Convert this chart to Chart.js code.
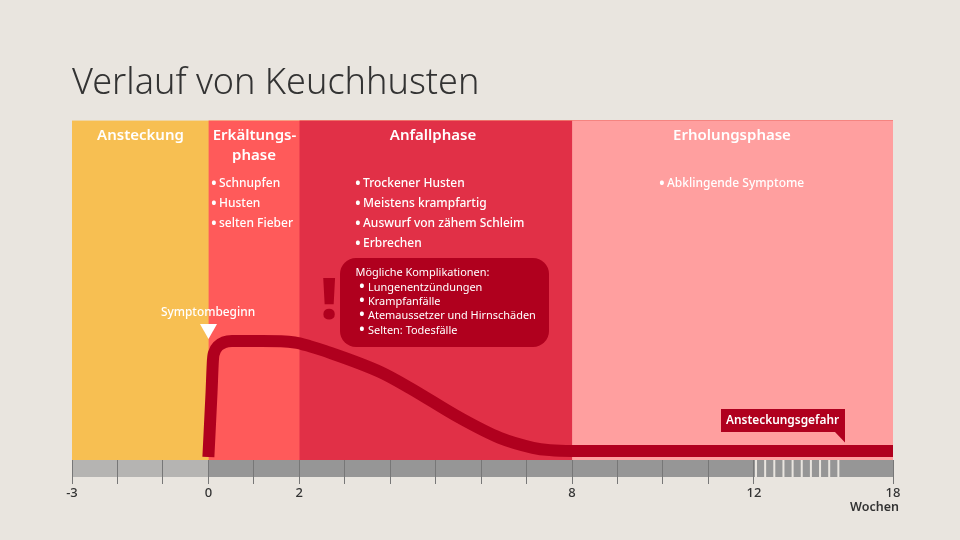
<!DOCTYPE html>
<html><head><meta charset="utf-8">
<style>html,body{margin:0;padding:0;background:#e9e5df}#w{width:960px;height:540px;position:relative}canvas{display:block}</style>
<script src="https://cdn.jsdelivr.net/npm/chart.js@4"></script>
</head><body><div id="w"><canvas id="c" width="960" height="540"></canvas></div>
<script>
const titleText = "Verlauf von Keuchhusten";
const phaseNames = ["Ansteckung", "Erkältungsphase", "Anfallphase", "Erholungsphase"];
const phaseStart = [-3, 0, 2, 8];
const phaseColors = ["#f7bf52", "#ff5a5a", "#e13047", "#ff9f9f"];
const curveWeeks = [0, 0.07, 0.10, 0.134, 0.21, 0.34, 0.52, 1.18, 1.9, 2.23, 2.56, 3.78, 4.43, 5.53, 6.41, 7.14, 7.51, 8, 18];
const curveLevel = [0.9, 20, 29.4, 31.8, 33.5, 34.6, 35, 35, 34.6, 33.5, 32.1, 25.9, 21.2, 12.4, 6.5, 3.6, 2.9, 2.65, 2.65];
const tickWeeks = [-3,-2,-1,0,1,2,3,4,5,6,7,8,9,10,11,12,18];
const labelledWeeks = [-3,0,2,8,12,18];

const SANS = '"Noto Sans"';
const BG = "#e9e5df", DARK = "#b0001e", INK = "#333333";

class BrokenScale extends Chart.LinearScale {
  static id = "broken";
  static defaults = Chart.LinearScale.defaults;
  getPixelForValue(v) {
    const pos = v <= 12 ? v : 12 + (v - 12) * 0.51;
    return this.left + (pos + 3) / 18.06 * this.width;
  }
}
Chart.register(BrokenScale);

const bandSets = phaseNames.map((n, i) => ({
  type: "line", label: n, order: 9 - i,
  data: [{x: phaseStart[i], y: 100}, {x: 18, y: 100}],
  fill: "start", backgroundColor: phaseColors[i], borderWidth: 0, pointRadius: 0, tension: 0
}));

function t(ctx, s, x, y, font, color, align) {
  ctx.font = font; ctx.fillStyle = color; ctx.textAlign = align || "left"; ctx.textBaseline = "middle";
  ctx.fillText(s, x, y);
}
function bulletList(ctx, items, bx, tx, ys, font) {
  items.forEach((s, i) => { t(ctx, "•", bx, ys[i], `700 14px ${SANS}`, "#fff", "center"); t(ctx, s, tx, ys[i], font, "#fff"); });
}
const overlay = {
  id: "overlay",
  beforeDraw(chart) {
    const ctx = chart.ctx, x = chart.scales.x, a = chart.chartArea;
    const top = a.bottom, h = 17;
    ctx.save();
    ctx.fillStyle = "#969696";
    ctx.fillRect(x.getPixelForValue(0), top, x.getPixelForValue(18) - x.getPixelForValue(0), h);
    ctx.fillStyle = "#b5b4b2";
    ctx.fillRect(x.getPixelForValue(-3), top, x.getPixelForValue(0) - x.getPixelForValue(-3), h);
    ctx.fillStyle = BG;
    for (let i = 0; i < 10; i++) ctx.fillRect(755 + i * 9.15, top, 2, h);
    ctx.restore();
  },
  afterDraw(chart) {
    const ctx = chart.ctx;
    ctx.save();
    const hd = `600 15px ${SANS}`, b = `500 12px ${SANS}`, s = `400 10.95px ${SANS}`;
    t(ctx, "Ansteckung", 140.5, 136, hd, "#fff", "center");
    t(ctx, "Erkältungs-", 254.5, 136, hd, "#fff", "center");
    t(ctx, "phase", 254, 156, hd, "#fff", "center");
    t(ctx, "Anfallphase", 433, 136, hd, "#fff", "center");
    t(ctx, "Erholungsphase", 732, 136, hd, "#fff", "center");
    bulletList(ctx, ["Schnupfen","Husten","selten Fieber"], 214, 219, [184,204,224], b);
    bulletList(ctx, ["Trockener Husten","Meistens krampfartig","Auswurf von zähem Schleim","Erbrechen"], 358, 363, [184,204,224,244], b);
    bulletList(ctx, ["Abklingende Symptome"], 662, 667, [184], b);
    ctx.fillStyle = DARK;
    ctx.beginPath(); ctx.roundRect(340, 258, 209, 89, 16); ctx.fill();
    t(ctx, "!", 329, 303, `900 56px ${SANS}`, DARK, "center");
    t(ctx, "Mögliche Komplikationen:", 355.5, 272.5, s, "#fff");
    bulletList(ctx, ["Lungenentzündungen","Krampfanfälle","Atemaussetzer und Hirnschäden","Selten: Todesfälle"], 362, 368, [287.5,301.5,315.5,330.5], s);
    t(ctx, "Symptombeginn", 208, 313, `500 11.9px ${SANS}`, "#fff", "center");
    ctx.fillStyle = "#fff";
    ctx.beginPath(); ctx.moveTo(200, 324); ctx.lineTo(217, 324); ctx.lineTo(208.5, 339); ctx.closePath(); ctx.fill();
    ctx.fillStyle = DARK;
    ctx.beginPath(); ctx.moveTo(721,409); ctx.lineTo(845,409); ctx.lineTo(845,442.5); ctx.lineTo(835,432); ctx.lineTo(721,432); ctx.closePath(); ctx.fill();
    t(ctx, "Ansteckungsgefahr", 726, 421, `600 11.9px ${SANS}`, "#fff");
    t(ctx, "Wochen", 899, 507, `600 12.5px ${SANS}`, INK, "right");
    ctx.restore();
  }
};

new Chart(document.getElementById("c"), {
  type: "line",
  data: { datasets: [
    { label: "Ansteckungsgefahr", order: 1,
      data: curveWeeks.map((w, i) => ({x: w, y: curveLevel[i]})),
      borderColor: DARK, borderWidth: 12, pointRadius: 0, fill: false,
      cubicInterpolationMode: "monotone", borderCapStyle: "butt", borderJoinStyle: "round" },
    ...bandSets
  ]},
  options: {
    responsive: false, animation: false, devicePixelRatio: 1,
    layout: { padding: { left: 72, right: 67, top: 0, bottom: 0 } },
    plugins: {
      legend: { display: false }, tooltip: { enabled: false },
      title: { display: true, text: titleText, align: "start", color: INK,
        font: { family: SANS, size: 36, weight: "300", lineHeight: 1.2 }, padding: { top: 62, bottom: 15 } }
    },
    scales: {
      x: { type: "broken", min: -3, max: 18, position: "bottom",
        afterFit: s => { s.height = 80; s.paddingLeft = 0; s.paddingRight = 0; },
        afterBuildTicks: s => { s.ticks = tickWeeks.map(v => ({value: v})); },
        border: { display: false },
        grid: { drawOnChartArea: false, drawTicks: true, tickLength: 24, color: "#777777", lineWidth: 1 },
        ticks: { autoSkip: false, maxRotation: 0, padding: 1, color: INK,
          font: { family: SANS, size: 13, weight: "500" },
          callback: v => labelledWeeks.includes(v) ? String(v) : "" } },
      y: { display: false, min: 0, max: 100 }
    }
  },
  plugins: [overlay]
});
</script>
</body></html>
